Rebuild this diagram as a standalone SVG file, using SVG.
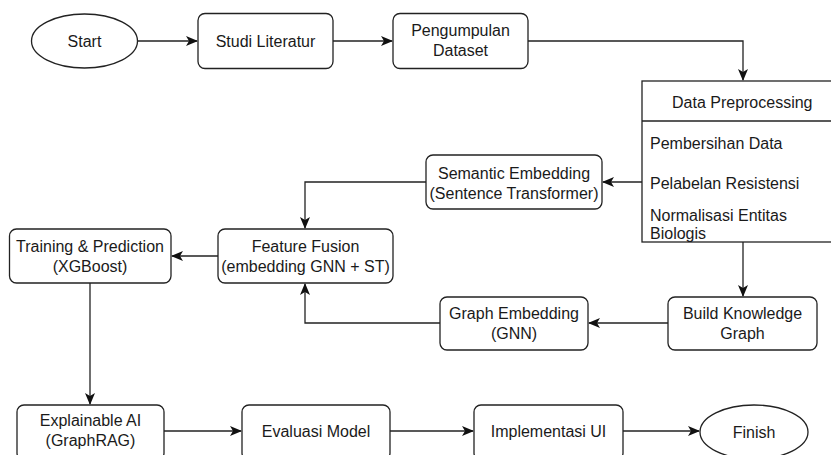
<svg xmlns="http://www.w3.org/2000/svg" width="831" height="455" viewBox="0 0 831 455">
  <defs>
    <style>
      .box { fill: #ffffff; stroke: #222222; stroke-width: 1.3; }
      .edge { fill: none; stroke: #222222; stroke-width: 1.3; }
      text { font-family: "Liberation Sans", Arial, sans-serif; font-size: 16px; fill: #1a1a1a; }
      .c { text-anchor: middle; }
    </style>
    <marker id="arrow" viewBox="0 0 12 10" refX="11" refY="5" markerWidth="12" markerHeight="10" markerUnits="userSpaceOnUse" orient="auto">
      <path d="M0,0 L12,5 L0,10 L3,5 Z" fill="#111111"/>
    </marker>
  </defs>
  <rect width="831" height="455" fill="#ffffff"/>

  <!-- connectors -->
  <g id="connectors" class="edges">
    <path class="edge" d="M137,41 H197" marker-end="url(#arrow)"/>
    <path class="edge" d="M333,41 H392" marker-end="url(#arrow)"/>
    <path class="edge" d="M528,41 H743 V80" marker-end="url(#arrow)"/>
    <path class="edge" d="M642,182 H603" marker-end="url(#arrow)"/>
    <path class="edge" d="M426,182 H305 V228" marker-end="url(#arrow)"/>
    <path class="edge" d="M218,256 H172" marker-end="url(#arrow)"/>
    <path class="edge" d="M743,242 V296" marker-end="url(#arrow)"/>
    <path class="edge" d="M668,323 H589" marker-end="url(#arrow)"/>
    <path class="edge" d="M440,323 H305 V284" marker-end="url(#arrow)"/>
    <path class="edge" d="M90,283 V404" marker-end="url(#arrow)"/>
    <path class="edge" d="M164,431 H241" marker-end="url(#arrow)"/>
    <path class="edge" d="M390,431 H473" marker-end="url(#arrow)"/>
    <path class="edge" d="M623,431 H699" marker-end="url(#arrow)"/>
  </g>

  <g id="start">
    <ellipse class="box" cx="84.5" cy="41" rx="53" ry="27"/>
    <text class="c" x="84.5" y="46.5">Start</text>
  </g>

  <g id="studi-literatur">
    <rect class="box" x="198" y="13.5" width="135" height="55" rx="7"/>
    <text class="c" x="265.5" y="46.5">Studi Literatur</text>
  </g>

  <g id="pengumpulan-dataset">
    <rect class="box" x="393" y="13.5" width="135" height="55" rx="7"/>
    <text class="c" x="460.5" y="36">Pengumpulan</text>
    <text class="c" x="460.5" y="55.5">Dataset</text>
  </g>

  <g id="data-preprocessing">
    <rect class="box" x="642" y="81" width="200" height="161"/>
    <line class="edge" x1="642" y1="121" x2="842" y2="121"/>
    <text x="672" y="107.5">Data Preprocessing</text>
    <text x="650" y="148.5">Pembersihan Data</text>
    <text x="650" y="188.5">Pelabelan Resistensi</text>
    <text x="650" y="221">Normalisasi Entitas</text>
    <text x="650" y="238.5">Biologis</text>
  </g>

  <g id="semantic-embedding">
    <rect class="box" x="426" y="155" width="176" height="54" rx="7"/>
    <text class="c" x="514" y="178.5">Semantic Embedding</text>
    <text class="c" x="514" y="199">(Sentence Transformer)</text>
  </g>

  <g id="feature-fusion">
    <rect class="box" x="218" y="229" width="175" height="54" rx="7"/>
    <text class="c" x="305.5" y="251.5">Feature Fusion</text>
    <text class="c" x="305.5" y="272">(embedding GNN + ST)</text>
  </g>

  <g id="training-prediction">
    <rect class="box" x="9.5" y="229" width="161.5" height="54" rx="7"/>
    <text class="c" x="90" y="251.5">Training &amp; Prediction</text>
    <text class="c" x="90" y="272">(XGBoost)</text>
  </g>

  <g id="build-knowledge-graph">
    <rect class="box" x="668" y="297" width="149" height="53" rx="7"/>
    <text class="c" x="742.5" y="318.5">Build Knowledge</text>
    <text class="c" x="742.5" y="338.5">Graph</text>
  </g>

  <g id="graph-embedding">
    <rect class="box" x="440" y="297" width="148" height="53" rx="7"/>
    <text class="c" x="514" y="318.5">Graph Embedding</text>
    <text class="c" x="514" y="338.5">(GNN)</text>
  </g>

  <g id="explainable-ai">
    <rect class="box" x="17" y="405" width="147" height="55" rx="7"/>
    <text class="c" x="90.5" y="425.5">Explainable AI</text>
    <text class="c" x="90.5" y="445.5">(GraphRAG)</text>
  </g>

  <g id="evaluasi-model">
    <rect class="box" x="242" y="405" width="148" height="55" rx="7"/>
    <text class="c" x="316" y="436.5">Evaluasi Model</text>
  </g>

  <g id="implementasi-ui">
    <rect class="box" x="474" y="405" width="149" height="55" rx="7"/>
    <text class="c" x="548.5" y="436.5">Implementasi UI</text>
  </g>

  <g id="finish">
    <ellipse class="box" cx="754" cy="432" rx="54" ry="27"/>
    <text class="c" x="754" y="437.5">Finish</text>
  </g>
</svg>
